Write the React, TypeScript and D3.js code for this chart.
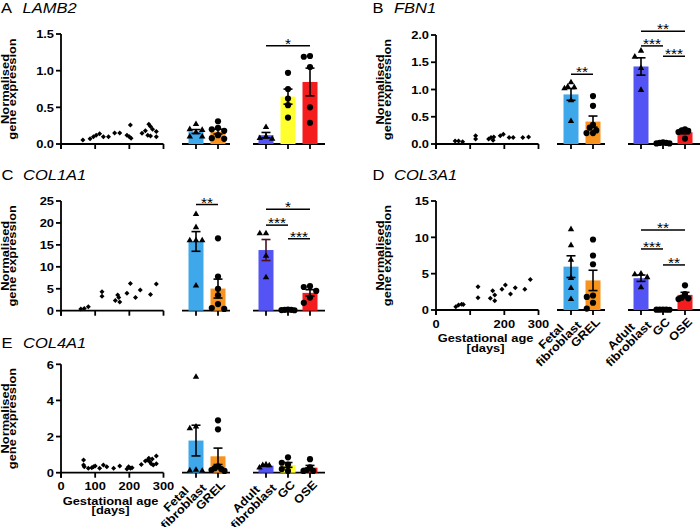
import React from "react";
import * as d3 from "d3";

const FONT = "'Liberation Sans', Arial, Helvetica, sans-serif";
const SX = 1.1;
const FS = 11.7;

// ---------- shared categories ----------
const groupLabelLines = [["Fetal", "fibroblast"], ["GREL"], ["Adult", "fibroblast"], ["GC"], ["OSE"]];
const groupColors = ["#3fa8ea", "#f7931e", "#5454f4", "#ffff2e", "#f41c1c"];
const groupShapes = ["triangle", "circle", "triangle", "circle", "circle"];
const ageTicks = [0, 100, 200, 300];

// ---------- A: LAMB2 ----------
const lamb2Ages = [64, 85, 95, 103, 113, 124, 139, 157, 172, 193, 200, 203, 205, 237, 247, 257, 262, 254, 262, 279, 279, 268];
const lamb2AgeValues = [0.055, 0.07, 0.1, 0.12, 0.14, 0.1, 0.1, 0.15, 0.15, 0.12, 0.1, 0.26, 0.08, 0.145, 0.18, 0.27, 0.24, 0.12, 0.11, 0.17, 0.1, 0.2];
const lamb2FetalFib = [0.27, 0.2, 0.19, 0.16, 0.1, 0.1];
const lamb2Grel = [0.31, 0.22, 0.2, 0.18, 0.12, 0.08, 0.07];
const lamb2AdultFib = [0.23, 0.1, 0.08, 0.07];
const lamb2Gc = [0.97, 0.75, 0.62, 0.53, 0.36];
const lamb2Ose = [1.2, 1.19, 1.05, 0.5, 0.29];
const lamb2Sig = [{ a: 2, b: 4, label: "*", level: 1.34 }];

// ---------- B: FBN1 ----------
const fbn1Ages = [56, 66, 78, 116, 116, 154, 161, 167, 169, 188, 197, 214, 226, 254, 271];
const fbn1AgeValues = [0.055, 0.055, 0.04, 0.15, 0.09, 0.09, 0.12, 0.07, 0.13, 0.15, 0.18, 0.12, 0.12, 0.12, 0.13];
const fbn1FetalFib = [1.13, 1.05, 1.04, 1.02, 0.8, 0.42];
const fbn1Grel = [0.88, 0.7, 0.35, 0.3, 0.25, 0.2, 0.2];
const fbn1AdultFib = [1.71, 1.6, 1.39, 0.99];
const fbn1Gc = [0.02, 0.01, 0.02, 0.03, 0.01];
const fbn1Ose = [0.27, 0.25, 0.24, 0.22, 0.1];
const fbn1Sig = [
  { a: 0, b: 1, label: "**", level: 1.28 },
  { a: 2, b: 4, label: "**", level: 2.07 },
  { a: 2, b: 3, label: "***", level: 1.8 },
  { a: 3, b: 4, label: "***", level: 1.61 },
];

// ---------- C: COL1A1 ----------
const col1a1Ages = [58, 68, 80, 120, 120, 159, 172, 166, 169, 193, 203, 218, 232, 262, 279];
const col1a1AgeValues = [0.4, 0.5, 0.9, 4.3, 3.3, 2.3, 2.0, 3.6, 3.0, 4.0, 6.2, 3.0, 4.7, 3.7, 6.1];
const col1a1FetalFib = [22, 19, 16, 16, 16, 5.7];
const col1a1Grel = [16.5, 7.8, 5.0, 3.5, 1.5, 0.6, 0.4];
const col1a1AdultFib = [17.6, 17.6, 12.5, 7.6];
const col1a1Gc = [0.2, 0.15, 0.25, 0.2, 0.1];
const col1a1Ose = [5.6, 5.4, 4.5, 3.0, 1.8];
const col1a1Sig = [
  { a: 0, b: 1, label: "**", level: 24.2 },
  { a: 2, b: 4, label: "*", level: 23.1 },
  { a: 2, b: 3, label: "***", level: 19.5 },
  { a: 3, b: 4, label: "***", level: 16.4 },
];

// ---------- D: COL3A1 ----------
const col3a1Ages = [58, 66, 75, 80, 123, 123, 159, 166, 172, 172, 193, 203, 218, 232, 260, 276];
const col3a1AgeValues = [0.45, 0.7, 0.8, 0.75, 3.2, 1.7, 1.6, 2.65, 2.06, 1.28, 2.85, 3.44, 2.2, 3.07, 2.85, 4.2];
const col3a1FetalFib = [11.1, 8.9, 6.9, 4.4, 3.0, 1.5];
const col3a1Grel = [9.7, 7.5, 6.3, 2.0, 1.8, 1.0, 0.2];
const col3a1AdultFib = [5.0, 4.9, 4.5, 3.1];
const col3a1Gc = [0.05, 0.04, 0.06, 0.05, 0.03];
const col3a1Ose = [3.4, 2.2, 1.7, 1.6, 1.5];
const col3a1Sig = [
  { a: 2, b: 4, label: "**", level: 11.0 },
  { a: 2, b: 3, label: "***", level: 8.4 },
  { a: 3, b: 4, label: "**", level: 6.2 },
];

// ---------- E: COL4A1 ----------
const col4a1Ages = [66, 66, 68, 80, 90, 95, 100, 113, 124, 134, 154, 172, 193, 198, 203, 208, 235, 247, 254, 260, 264, 270, 279, 279, 267, 257];
const col4a1AgeValues = [0.7, 0.43, 0.33, 0.24, 0.28, 0.33, 0.37, 0.24, 0.43, 0.33, 0.24, 0.37, 0.2, 0.33, 0.24, 0.28, 0.46, 0.65, 0.7, 0.6, 0.5, 0.43, 0.92, 0.5, 0.76, 0.8];
const col4a1FetalFib = [5.3, 2.55, 2.45, 0.15, 0.12, 0.1];
const col4a1Grel = [2.9, 2.4, 0.35, 0.25, 0.2, 0.15, 0.1];
const col4a1AdultFib = [0.45, 0.42, 0.4, 0.28];
const col4a1Gc = [0.85, 0.55, 0.45, 0.2, 0.1];
const col4a1Ose = [0.75, 0.3, 0.15, 0.1, 0.1];
const col4a1Sig: { a: number; b: number; label: string; level: number }[] = [];

// ---------- panel layout ----------
const panels = [
  { letter: "A", gene: "LAMB2", titleX: 1, titleY: 13, left: 61, y0: 144, h: 110, yMax: 1.5, yTicks: [0, 0.5, 1, 1.5], fmt: ".1f", showX: false, xLabels: [] as string[],
    ages: lamb2Ages, ageValues: lamb2AgeValues, groups: [lamb2FetalFib, lamb2Grel, lamb2AdultFib, lamb2Gc, lamb2Ose], sig: lamb2Sig, errColor: ["#000", "#000", "#000", "#000", "#000"] },
  { letter: "B", gene: "FBN1", titleX: 372.5, titleY: 13, left: 436, y0: 144, h: 109, yMax: 2, yTicks: [0, 0.5, 1, 1.5, 2], fmt: ".1f", showX: false, xLabels: [] as string[],
    ages: fbn1Ages, ageValues: fbn1AgeValues, groups: [fbn1FetalFib, fbn1Grel, fbn1AdultFib, fbn1Gc, fbn1Ose], sig: fbn1Sig, errColor: ["#000", "#000", "#000", "#000", "#000"] },
  { letter: "C", gene: "COL1A1", titleX: 1.5, titleY: 179.5, left: 61, y0: 310.7, h: 109.7, yMax: 25, yTicks: [0, 5, 10, 15, 20, 25], fmt: "d", showX: false, xLabels: [] as string[],
    ages: col1a1Ages, ageValues: col1a1AgeValues, groups: [col1a1FetalFib, col1a1Grel, col1a1AdultFib, col1a1Gc, col1a1Ose], sig: col1a1Sig, errColor: ["#000", "#000", "#4a1020", "#000", "#000"] },
  { letter: "D", gene: "COL3A1", titleX: 372.5, titleY: 179.5, left: 436, y0: 310, h: 109, yMax: 15, yTicks: [0, 5, 10, 15], fmt: "d", showX: true, xLabels: ["0", "", "200", "300"],
    ages: col3a1Ages, ageValues: col3a1AgeValues, groups: [col3a1FetalFib, col3a1Grel, col3a1AdultFib, col3a1Gc, col3a1Ose], sig: col3a1Sig, errColor: ["#000", "#000", "#000", "#000", "#000"] },
  { letter: "E", gene: "COL4A1", titleX: 1.5, titleY: 348, left: 61, y0: 472.7, h: 108.4, yMax: 6, yTicks: [0, 2, 4, 6], fmt: "d", showX: true, xLabels: ["0", "100", "200", "300"],
    ages: col4a1Ages, ageValues: col4a1AgeValues, groups: [col4a1FetalFib, col4a1Grel, col4a1AdultFib, col4a1Gc, col4a1Ose], sig: col4a1Sig, errColor: ["#000", "#000", "#000", "#000", "#000"] },
];

let measureCtx: CanvasRenderingContext2D | null = null;
function textWidth(s: string, size: number) {
  if (!measureCtx && typeof document !== "undefined") measureCtx = document.createElement("canvas").getContext("2d");
  if (!measureCtx) return s.length * size * 0.6;
  measureCtx.font = `bold ${size}px ${FONT}`;
  return measureCtx.measureText(s).width;
}

// simple column-scatter layout: spread overlapping points sideways, compressed to stay near the bar
function dodge(vals: number[], y: (v: number) => number, step: number, maxOff: number) {
  const placed: { x: number; y: number }[] = [];
  const order = vals.map((_, i) => i).sort((a, b) => vals[b] - vals[a]);
  const out = new Array(vals.length).fill(0);
  for (const i of order) {
    const py = y(vals[i]);
    for (let k = 0; k < 30; k++) {
      const off = k === 0 ? 0 : (k % 2 === 1 ? -1 : 1) * Math.ceil(k / 2) * step;
      if (placed.every((p) => Math.hypot(p.x - off, p.y - py) >= step - 0.01)) {
        out[i] = off;
        placed.push({ x: off, y: py });
        break;
      }
    }
  }
  const m = Math.max(...out.map(Math.abs));
  const k = m > maxOff ? maxOff / m : 1;
  return out.map((o) => o * k);
}

const T = ({ x, y, rot = 0, anchor = "start", size = FS, weight = "bold", italic = false, children }: any) => (
  <text
    transform={`translate(${x},${y}) rotate(${rot}) scale(${SX},1)`}
    textAnchor={anchor}
    fontSize={size}
    fontWeight={weight}
    fontStyle={italic ? "italic" : "normal"}
    fontFamily={FONT}
    fill="#000"
  >
    {children}
  </text>
);

const tri = d3.symbol(d3.symbolTriangle, 18)() as string;
const circ = d3.symbol(d3.symbolCircle, 30)() as string;
const diam = d3.symbol(d3.symbolSquare, 12.5)() as string;

function Panel({ p }: { p: (typeof panels)[number] }) {
  const L = p.left;
  const y = d3.scaleLinear().domain([0, p.yMax]).range([p.y0, p.y0 - p.h]);
  const xAge = d3.scaleLinear().domain([0, 300]).range([L, L + 102.5]);
  const xFetal = d3.scalePoint<number>().domain([0, 1]).range([L + 135, L + 157]);
  const xAdult = d3.scalePoint<number>().domain([2, 3, 4]).range([L + 205, L + 249]);
  const gx = (g: number) => (g < 2 ? (xFetal(g) as number) : (xAdult(g) as number));
  const fmt = d3.format(p.fmt);
  const barW = 15;
  const sw = 1.8;

  return (
    <g>
      {/* title */}
      <T x={p.titleX} y={p.titleY} size={15} weight="normal">{p.letter}</T>
      <T x={p.titleX + 21.5} y={p.titleY} size={15} weight="normal" italic>{p.gene}</T>

      {/* y label */}
      <T x={L - 52} y={p.y0 - p.h / 2} rot={-90} anchor="middle">Normalised</T>
      <T x={L - 45} y={p.y0 - p.h / 2} rot={-90} anchor="middle">gene expression</T>

      {/* y axis */}
      <line x1={L} x2={L} y1={p.y0 + 5} y2={y(p.yMax)} stroke="#000" strokeWidth={sw} />
      {p.yTicks.map((t) => (
        <g key={t}>
          <line x1={L - 5} x2={L} y1={y(t)} y2={y(t)} stroke="#000" strokeWidth={sw} />
          <T x={L - 7} y={y(t) + 4.2} anchor="end">{fmt(t)}</T>
        </g>
      ))}

      {/* scatter axis */}
      <line x1={L} x2={xAge(300)} y1={p.y0} y2={p.y0} stroke="#000" strokeWidth={sw} />
      {ageTicks.map((t, i) => (
        <g key={t}>
          <line x1={xAge(t)} x2={xAge(t)} y1={p.y0} y2={p.y0 + 5} stroke="#000" strokeWidth={sw} />
          {p.showX && p.xLabels[i] ? <T x={xAge(t)} y={p.y0 + 17.5} anchor="middle">{p.xLabels[i]}</T> : null}
        </g>
      ))}
      {p.showX ? (
        <g>
          <T x={xAge(145)} y={p.y0 + 32} anchor="middle">Gestational age</T>
          <T x={xAge(145)} y={p.y0 + 41.5} anchor="middle">[days]</T>
        </g>
      ) : null}
      {p.ages.map((a, i) => (
        <path key={i} d={diam} transform={`translate(${xAge(a)},${y(p.ageValues[i])}) rotate(45)`} fill="#000" />
      ))}

      {/* group axes */}
      <line x1={L + 121} x2={L + 169} y1={p.y0} y2={p.y0} stroke="#000" strokeWidth={sw} />
      <line x1={L + 192} x2={L + 264} y1={p.y0} y2={p.y0} stroke="#000" strokeWidth={sw} />
      {p.groups.map((_, g) => (
        <line key={g} x1={gx(g)} x2={gx(g)} y1={p.y0} y2={p.y0 + 5} stroke="#000" strokeWidth={sw} />
      ))}

      {/* bars */}
      {p.groups.map((vals, g) => {
        const m = d3.mean(vals) as number;
        return <rect key={g} x={gx(g) - barW / 2} y={y(m)} width={barW} height={p.y0 - y(m)} fill={groupColors[g]} />;
      })}
      {/* error bars (mean ± SEM) */}
      {p.groups.map((vals, g) => {
        const m = d3.mean(vals) as number;
        const se = (d3.deviation(vals) as number) / Math.sqrt(vals.length);
        const c = gx(g);
        const lo = Math.max(0, m - se);
        return (
          <g key={g} stroke={p.errColor[g]} strokeWidth={1.6}>
            <line x1={c} x2={c} y1={y(m + se)} y2={y(lo)} />
            <line x1={c - 4.5} x2={c + 4.5} y1={y(m + se)} y2={y(m + se)} />
            <line x1={c - 4.5} x2={c + 4.5} y1={y(lo)} y2={y(lo)} />
          </g>
        );
      })}
      {/* points */}
      {p.groups.map((vals, g) => {
        const offs = dodge(vals, (v) => y(v), 6.2, 6.5);
        const d = groupShapes[g] === "triangle" ? tri : circ;
        return (
          <g key={g}>
            {vals.map((v, i) => (
              <path key={i} d={d} transform={`translate(${gx(g) + offs[i]},${y(v)})`} fill="#000" />
            ))}
          </g>
        );
      })}

      {/* significance */}
      {p.sig.map((s, i) => {
        const yy = y(s.level);
        const x1 = gx(s.a);
        const x2 = gx(s.b);
        return (
          <g key={i}>
            <line x1={x1} x2={x2} y1={yy} y2={yy} stroke="#000" strokeWidth={1.5} />
            <T x={(x1 + x2) / 2} y={yy + 3} anchor="middle" size={14} weight="normal">{s.label}</T>
          </g>
        );
      })}

      {/* category labels */}
      {p.showX
        ? groupLabelLines.map((lines, g) => {
            const ax = gx(g);
            const ay = p.y0 + 5;
            if (lines.length === 1) {
              return (
                <text key={g} transform={`translate(${ax},${ay}) rotate(-45) scale(${SX},1)`} textAnchor="end" fontSize={FS} fontWeight="bold" fontFamily={FONT} x={0} y={11}>
                  {lines[0]}
                </text>
              );
            }
            const W = Math.max(...lines.map((s) => textWidth(s, FS)));
            return (
              <text key={g} transform={`translate(${ax},${ay}) rotate(-45) scale(${SX},1)`} textAnchor="middle" fontSize={FS} fontWeight="bold" fontFamily={FONT}>
                {lines.map((s, i) => (
                  <tspan key={i} x={-W / 2} y={15.5 - (lines.length - 1 - i) * 10.5}>{s}</tspan>
                ))}
              </text>
            );
          })
        : null}
    </g>
  );
}

export default function App() {
  return (
    <svg width={700} height={527} style={{ display: "block", position: "absolute", left: 0, top: 0, background: "#fff" }}>
      <rect width={700} height={527} fill="#fff" />
      {panels.map((p) => (
        <Panel key={p.letter} p={p} />
      ))}
    </svg>
  );
}
